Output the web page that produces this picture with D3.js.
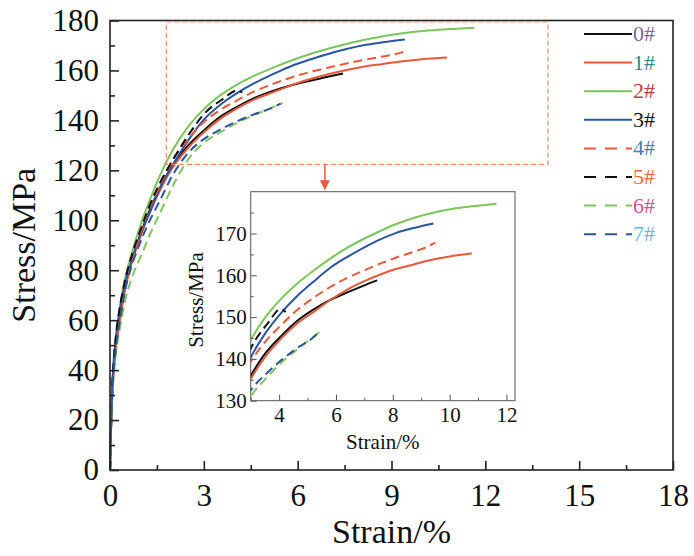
<!DOCTYPE html>
<html>
<head>
<meta charset="utf-8">
<script src="https://cdn.jsdelivr.net/npm/d3@7"></script>
<style>
  body { margin: 0; background: #fff; }
</style>
</head>
<body>
<div id="chart"></div>
<script>
var serif = "'Liberation Serif', 'Times New Roman', 'DejaVu Serif', serif";

// sample names and styles
var names = ["0#", "1#", "2#", "3#", "4#", "5#", "6#", "7#"];
var lineColors = ["#111111", "#e8583a", "#7cc55b", "#2b54a3", "#e8583a", "#111111", "#7cc55b", "#2b54a3"];
var labelColors = ["#7d5fa5", "#2a8a88", "#b5403a", "#111111", "#3f7fc0", "#e86a45", "#d9508a", "#6db5dc"];
var dashed = [false, false, false, false, true, true, true, true];

// strain (%) / stress (MPa)
var strain0 = [0, 0.03, 0.07, 0.12, 0.2, 0.32, 0.45, 0.62, 0.85, 1.2, 1.6, 2.0, 2.5, 3.0, 3.5, 4.06, 4.6, 5.23, 5.8, 6.4, 7.0, 7.45];
var stress0 = [0, 16, 31, 41, 51, 61, 71, 80, 90, 102, 113, 122, 130, 136, 141.2, 145.4, 148.9, 151.9, 154.1, 155.9, 157.6, 158.8];

var strain1 = [0, 0.03, 0.07, 0.12, 0.2, 0.32, 0.45, 0.62, 0.85, 1.2, 1.6, 2.0, 2.5, 3.0, 3.5, 4.06, 4.6, 5.23, 5.8, 6.4, 7.0, 7.56, 8.1, 8.73, 9.3, 9.9, 10.4, 10.78];
var stress1 = [0, 15, 30, 40, 50, 60, 70, 80, 89, 101, 112, 121, 129, 135.2, 140.4, 144.8, 148.3, 151.3, 154.1, 156.6, 158.6, 160.2, 161.5, 162.6, 163.6, 164.4, 164.9, 165.2];

var strain2 = [0, 0.03, 0.07, 0.12, 0.2, 0.3, 0.45, 0.7, 1.0, 1.3, 1.6, 2.0, 2.5, 3.0, 3.5, 4.06, 4.6, 5.23, 5.8, 6.4, 7.0, 7.56, 8.1, 8.73, 9.3, 9.9, 10.5, 11.07, 11.65];
var stress2 = [0, 16, 32, 43, 54, 64, 75, 87, 99, 109, 118, 128, 137.5, 144.5, 149.8, 154.3, 157.8, 161.2, 164, 166.6, 168.8, 170.6, 172.2, 173.7, 174.8, 175.7, 176.3, 176.7, 177.1];

var strain3 = [0, 0.03, 0.07, 0.12, 0.2, 0.3, 0.45, 0.7, 1.0, 1.3, 1.6, 2.0, 2.5, 3.0, 3.5, 4.06, 4.6, 5.23, 5.8, 6.4, 7.0, 7.56, 8.1, 8.73, 9.43];
var stress3 = [0, 17, 33, 44, 54, 63, 73, 84, 95, 104, 113, 122, 132, 140.3, 146, 150.9, 154.8, 158.6, 161.8, 164.4, 166.7, 168.6, 170.1, 171.3, 172.4];

var strain4 = [0, 0.03, 0.07, 0.12, 0.2, 0.32, 0.45, 0.62, 0.85, 1.2, 1.6, 2.0, 2.5, 3.0, 3.5, 4.06, 4.6, 5.23, 5.8, 6.4, 7.0, 7.56, 8.1, 8.73, 9.2, 9.5];
var stress4 = [0, 16, 31, 41, 51, 61, 71, 80, 90, 103, 114, 124, 132.5, 139.3, 144, 148, 151.5, 154.7, 157.2, 159.4, 161.2, 162.8, 164.2, 165.6, 166.8, 167.8];

var strain5 = [0, 0.03, 0.07, 0.12, 0.2, 0.3, 0.45, 0.7, 1.0, 1.3, 1.6, 2.0, 2.5, 3.0, 3.6, 4.06, 4.23];
var stress5 = [0, 17, 33, 44, 55, 64, 74, 86, 97, 107, 115, 124, 134, 142.5, 148.5, 151.9, 151.2];

var strain6 = [0, 0.03, 0.07, 0.12, 0.2, 0.32, 0.45, 0.7, 1.0, 1.3, 1.6, 1.86, 2.1, 2.4, 2.7, 3.0, 3.6, 4.06, 4.64, 5.23, 5.52];
var stress6 = [0, 14, 28, 38, 48, 57, 66, 77, 86, 95, 103, 110, 116, 122.5, 127.5, 131, 135.8, 139, 142.3, 145.4, 147];

var strain7 = [0, 0.03, 0.07, 0.12, 0.2, 0.32, 0.45, 0.65, 0.9, 1.2, 1.6, 2.0, 2.5, 3.0, 3.6, 4.06, 4.64, 5.23, 5.45];
var stress7 = [0, 15, 30, 40, 50, 60, 70, 80, 89, 98, 108, 118, 127, 132.5, 136.8, 139.6, 142.6, 145.3, 146.7];

var strains = [strain0, strain1, strain2, strain3, strain4, strain5, strain6, strain7];
var stresses = [stress0, stress1, stress2, stress3, stress4, stress5, stress6, stress7];

// axis ticks
var xTicks = [0, 3, 6, 9, 12, 15, 18];
var xMinor = [1.5, 4.5, 7.5, 10.5, 13.5, 16.5];
var yTicks = [0, 20, 40, 60, 80, 100, 120, 140, 160, 180];
var yMinor = [10, 30, 50, 70, 90, 110, 130, 150, 170];
var inXTicks = [4, 6, 8, 10, 12];
var inXMinor = [3, 5, 7, 9, 11];
var inYTicks = [130, 140, 150, 160, 170];
var inYMinor = [135, 145, 155, 165, 175];

// zoom box drawn on the main chart (strain, stress)
var zoomBoxX = [1.8, 14.0];
var zoomBoxY = [122.4, 179.4];
var arrowX = 6.87, arrowTipY = 112;

var svg = d3.select("#chart").append("svg")
  .attr("width", 694).attr("height", 556)
  .style("font-family", serif);

// main chart
var x = d3.scaleLinear().domain([0, 18]).range([110, 673]);
var y = d3.scaleLinear().domain([0, 180]).range([470, 20.5]);

function seriesData(i) {
  return strains[i].map(function (s, j) { return [s, stresses[i][j]]; });
}

var line = d3.line()
  .x(function (d) { return x(d[0]); })
  .y(function (d) { return y(d[1]); })
  .curve(d3.curveMonotoneX);

var main = svg.append("g");

// curves
for (var i = 0; i < names.length; i++) {
  main.append("path")
    .attr("d", line(seriesData(i)))
    .attr("fill", "none")
    .attr("stroke", lineColors[i])
    .attr("stroke-width", 2)
    .attr("stroke-dasharray", dashed[i] ? "9,5" : null);
}

// frame
main.append("rect")
  .attr("x", x(0)).attr("y", y(180))
  .attr("width", x(18) - x(0)).attr("height", y(0) - y(180))
  .attr("fill", "none").attr("stroke", "#222").attr("stroke-width", 1.6);

// axes with inward ticks
var xAxis = main.append("g").attr("transform", "translate(0," + y(0) + ")")
  .call(d3.axisBottom(x).tickValues(xTicks).tickSizeInner(-9).tickSizeOuter(0).tickPadding(14));
var xAxisMinor = main.append("g").attr("transform", "translate(0," + y(0) + ")")
  .call(d3.axisBottom(x).tickValues(xMinor).tickSizeInner(-5).tickSizeOuter(0).tickFormat(""));
var yAxis = main.append("g").attr("transform", "translate(" + x(0) + ",0)")
  .call(d3.axisLeft(y).tickValues(yTicks).tickSizeInner(-9).tickSizeOuter(0).tickPadding(11));
var yAxisMinor = main.append("g").attr("transform", "translate(" + x(0) + ",0)")
  .call(d3.axisLeft(y).tickValues(yMinor).tickSizeInner(-5).tickSizeOuter(0).tickFormat(""));

[xAxis, xAxisMinor, yAxis, yAxisMinor].forEach(function (a) {
  a.attr("font-family", serif);
  a.select(".domain").remove();
  a.selectAll(".tick line").attr("stroke", "#222").attr("stroke-width", 1.6);
});
xAxis.selectAll("text").style("font-size", "31px").style("font-family", serif).attr("fill", "#111");
yAxis.selectAll("text").style("font-size", "31px").style("font-family", serif).attr("fill", "#111");

main.append("text")
  .attr("x", (x(0) + x(18)) / 2).attr("y", 543)
  .attr("text-anchor", "middle").style("font-size", "34px").attr("fill", "#111")
  .text("Strain/%");
main.append("text")
  .attr("transform", "translate(35," + (y(0) + y(180)) / 2 + ") rotate(-90)")
  .attr("text-anchor", "middle").style("font-size", "34px").attr("fill", "#111")
  .text("Stress/MPa");

// dashed zoom box and arrow
main.append("rect")
  .attr("x", x(zoomBoxX[0])).attr("y", y(zoomBoxY[1]))
  .attr("width", x(zoomBoxX[1]) - x(zoomBoxX[0]))
  .attr("height", y(zoomBoxY[0]) - y(zoomBoxY[1]))
  .attr("fill", "none").attr("stroke", "#f08a6a").attr("stroke-width", 1.2)
  .attr("stroke-dasharray", "5,3");
main.append("line")
  .attr("x1", x(arrowX)).attr("x2", x(arrowX))
  .attr("y1", y(zoomBoxY[0])).attr("y2", y(arrowTipY) - 8)
  .attr("stroke", "#e8583a").attr("stroke-width", 1.5);
main.append("path")
  .attr("d", "M" + (x(arrowX) - 5) + "," + (y(arrowTipY) - 10) +
    " L" + (x(arrowX) + 5) + "," + (y(arrowTipY) - 10) +
    " L" + x(arrowX) + "," + y(arrowTipY) + " Z")
  .attr("fill", "#e8583a");

// legend
var legend = main.append("g");
names.forEach(function (n, i) {
  var ly = 34 + i * 28.6;
  legend.append("line")
    .attr("x1", 584).attr("x2", 632).attr("y1", ly).attr("y2", ly)
    .attr("stroke", lineColors[i]).attr("stroke-width", 2)
    .attr("stroke-dasharray", dashed[i] ? "12,9" : null);
  legend.append("text")
    .attr("x", 633).attr("y", ly + 7)
    .style("font-size", "22px").attr("fill", labelColors[i])
    .text(n);
});

// inset chart
var ix = d3.scaleLinear().domain([3, 12.3]).range([250.7, 515]);
var iy = d3.scaleLinear().domain([130, 180]).range([400.7, 191.7]);

var inset = svg.append("g");
inset.append("rect")
  .attr("x", ix(3)).attr("y", iy(180))
  .attr("width", ix(12.3) - ix(3)).attr("height", iy(130) - iy(180))
  .attr("fill", "#fff").attr("stroke", "#555").attr("stroke-width", 1);

inset.append("clipPath").attr("id", "inset-clip")
  .append("rect")
  .attr("x", ix(3)).attr("y", iy(180))
  .attr("width", ix(12.3) - ix(3)).attr("height", iy(130) - iy(180));

var iline = d3.line()
  .x(function (d) { return ix(d[0]); })
  .y(function (d) { return iy(d[1]); })
  .curve(d3.curveMonotoneX);

var curves = inset.append("g").attr("clip-path", "url(#inset-clip)");
for (var k = 0; k < names.length; k++) {
  curves.append("path")
    .attr("d", iline(seriesData(k)))
    .attr("fill", "none")
    .attr("stroke", lineColors[k])
    .attr("stroke-width", 2)
    .attr("stroke-dasharray", dashed[k] ? "9,5" : null);
}

var ixAxis = inset.append("g").attr("transform", "translate(0," + iy(130) + ")")
  .call(d3.axisBottom(ix).tickValues(inXTicks).tickSizeInner(-6).tickSizeOuter(0).tickPadding(6));
var ixMinor = inset.append("g").attr("transform", "translate(0," + iy(130) + ")")
  .call(d3.axisBottom(ix).tickValues(inXMinor).tickSizeInner(-3).tickSizeOuter(0).tickFormat(""));
var iyAxis = inset.append("g").attr("transform", "translate(" + ix(3) + ",0)")
  .call(d3.axisLeft(iy).tickValues(inYTicks).tickSizeInner(-6).tickSizeOuter(0).tickPadding(4));
var iyMinor = inset.append("g").attr("transform", "translate(" + ix(3) + ",0)")
  .call(d3.axisLeft(iy).tickValues(inYMinor).tickSizeInner(-3).tickSizeOuter(0).tickFormat(""));

[ixAxis, ixMinor, iyAxis, iyMinor].forEach(function (a) {
  a.attr("font-family", serif);
  a.select(".domain").remove();
  a.selectAll(".tick line").attr("stroke", "#555");
});
ixAxis.selectAll("text").style("font-size", "21px").style("font-family", serif).attr("fill", "#111");
iyAxis.selectAll("text").style("font-size", "21px").style("font-family", serif).attr("fill", "#111");

inset.append("text")
  .attr("x", (ix(3) + ix(12.3)) / 2).attr("y", 449)
  .attr("text-anchor", "middle").style("font-size", "21px").attr("fill", "#111")
  .text("Strain/%");
inset.append("text")
  .attr("transform", "translate(203,300) rotate(-90)")
  .attr("text-anchor", "middle").style("font-size", "21px").attr("fill", "#111")
  .text("Stress/MPa");
</script>
</body>
</html>
